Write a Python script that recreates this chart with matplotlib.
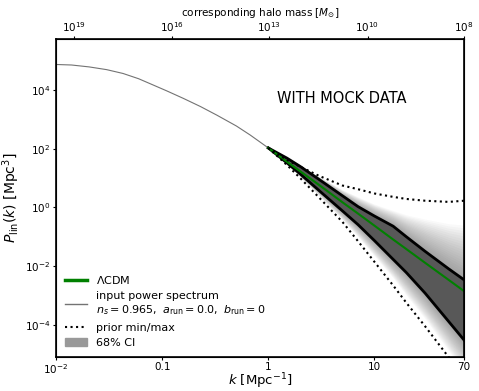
import numpy as np
import matplotlib
matplotlib.use("Agg")
import matplotlib.pyplot as plt
from matplotlib.lines import Line2D
from matplotlib.patches import Patch
from matplotlib.ticker import NullLocator, FixedLocator, FixedFormatter

# ── input linear power spectrum (k < 1) ──────────────────────────────────────
k_input = [0.01, 0.014, 0.0205, 0.03, 0.0428, 0.06, 0.077, 0.11, 0.159,
           0.23, 0.328, 0.5, 0.676, 1.0]
p_input = [7.5e4, 7.2e4, 6.2e4, 5.0e4, 3.7e4, 2.45e4, 1.66e4, 9.5e3, 5.2e3,
           2.75e3, 1.4e3, 600, 294, 107]

# ── reconstruction for k >= 1 ────────────────────────────────────────────────
k_fit = [1, 1.5, 2, 3, 5, 7, 10, 15, 20, 30, 50, 70]
p_lcdm = [107, 36, 17, 5.9, 1.5, 0.62, 0.24, 0.081, 0.038, 0.013, 3.4e-3, 1.4e-3]
p_ci_hi = [107, 48, 25, 9.1, 2.5, 1.07, 0.51, 0.23, 0.10, 0.032, 8.1e-3, 3.4e-3]
p_ci_lo = [107, 33, 13.8, 3.8, 0.76, 0.26, 0.074, 0.017, 6.0e-3, 1.2e-3, 1.3e-4, 3.0e-5]
p_prior_max = [107, 41.7, 24.5, 12.0, 5.6, 4.2, 3.0, 2.3, 1.95, 1.7, 1.55, 1.7]
p_prior_min = [107, 28, 10, 2.2, 0.32, 0.071, 0.014, 2.2e-3, 5.6e-4, 8.9e-5, 7.9e-6, 1.6e-6]

# outer envelope of the faint posterior draws
p_draws_hi = [107, 44, 25.7, 11.5, 4.0, 2.3, 1.3, 0.79, 0.56, 0.4, 0.28, 0.25]
p_draws_lo = [107, 30, 10.7, 2.5, 0.38, 0.1, 0.022, 4.0e-3, 1.0e-3, 1.6e-4, 1.3e-5, 2.5e-6]

# ── top axis: halo mass ticks ────────────────────────────────────────────────
mass_tick_k = [0.0148, 0.124, 1.02, 8.6, 70]
mass_tick_labels = [r"$10^{19}$", r"$10^{16}$", r"$10^{13}$", r"$10^{10}$", r"$10^{8}$"]

x_ticks = [0.01, 0.1, 1, 10, 70]
x_tick_labels = [r"$10^{-2}$", "0.1", "1", "10", "70"]
y_ticks = [1e-4, 1e-2, 1, 1e2, 1e4]

fig = plt.figure(figsize=(4.79, 3.91), dpi=100)
ax = fig.add_axes([0.117, 0.087, 0.852, 0.813])

# faint fan: stack thin translucent bands from the CI edges out to the draws envelope
lo_ci, hi_ci = np.log10(p_ci_lo), np.log10(p_ci_hi)
lo_dr, hi_dr = np.log10(p_draws_lo), np.log10(p_draws_hi)
for f in np.linspace(0.05, 1.0, 20):
    ax.fill_between(k_fit, 10 ** (lo_ci + f * (lo_dr - lo_ci)),
                    10 ** (hi_ci + f * (hi_dr - hi_ci)),
                    color="0.35", alpha=0.035, lw=0)
ax.fill_between(k_fit, p_ci_lo, p_ci_hi, color="#585858", lw=0)

ax.plot(k_input, p_input, color="0.45", lw=0.8)
ax.plot(k_fit, p_ci_hi, color="k", lw=2)
ax.plot(k_fit, p_ci_lo, color="k", lw=2)
ax.plot(k_fit, p_lcdm, color="green", lw=1.5)
ax.plot(k_fit, p_prior_max, color="k", lw=1.5, ls=":")
ax.plot(k_fit, p_prior_min, color="k", lw=1.5, ls=":")

ax.set_xscale("log")
ax.set_yscale("log")
ax.set_xlim(0.01, 70)
ax.set_ylim(8e-6, 5.5e5)
ax.xaxis.set_major_locator(FixedLocator(x_ticks))
ax.xaxis.set_major_formatter(FixedFormatter(x_tick_labels))
ax.xaxis.set_minor_locator(NullLocator())
ax.yaxis.set_major_locator(FixedLocator(y_ticks))
ax.yaxis.set_minor_locator(NullLocator())
ax.tick_params(labelsize=7.5, length=2.5, pad=1.5)
ax.tick_params(axis="x", pad=1.0)
for s in ax.spines.values():
    s.set_linewidth(1.2)

ax.set_xlabel(r"$k\ [\mathrm{Mpc}^{-1}]$", fontsize=9.5)
ax.xaxis.set_label_coords(0.5, -0.046)
ax.set_ylabel(r"$P_\mathrm{lin}(k)\ [\mathrm{Mpc}^3]$", fontsize=10)
ax.yaxis.set_label_coords(-0.083, 0.5)

ax.text(0.70, 0.814, "WITH MOCK DATA", transform=ax.transAxes,
        ha="center", va="center", fontsize=10.5)

top = ax.twiny()
top.set_xscale("log")
top.set_xlim(ax.get_xlim())
top.xaxis.set_major_locator(FixedLocator(mass_tick_k))
top.xaxis.set_major_formatter(FixedFormatter(mass_tick_labels))
top.xaxis.set_minor_locator(NullLocator())
top.tick_params(labelsize=7.5, length=2.5, pad=1.5)
top.set_xlabel(r"corresponding halo mass [$M_{\odot}$]", fontsize=7.5, labelpad=3)

handles = [
    Line2D([], [], color="green", lw=2.5),
    Line2D([], [], color="0.45", lw=1),
    Line2D([], [], color="k", lw=1.5, ls=":"),
    Patch(color="0.6"),
]
labels = [
    r"$\Lambda$CDM",
    "input power spectrum\n" + r"$n_s = 0.965,\ a_\mathrm{run} = 0.0,\ b_\mathrm{run} = 0$",
    "prior min/max",
    "68% CI",
]
ax.legend(handles, labels, loc="lower left", frameon=False, fontsize=8,
          handlelength=2.0, labelspacing=0.5, borderaxespad=0.4)

fig.savefig("out.png", dpi=100)
